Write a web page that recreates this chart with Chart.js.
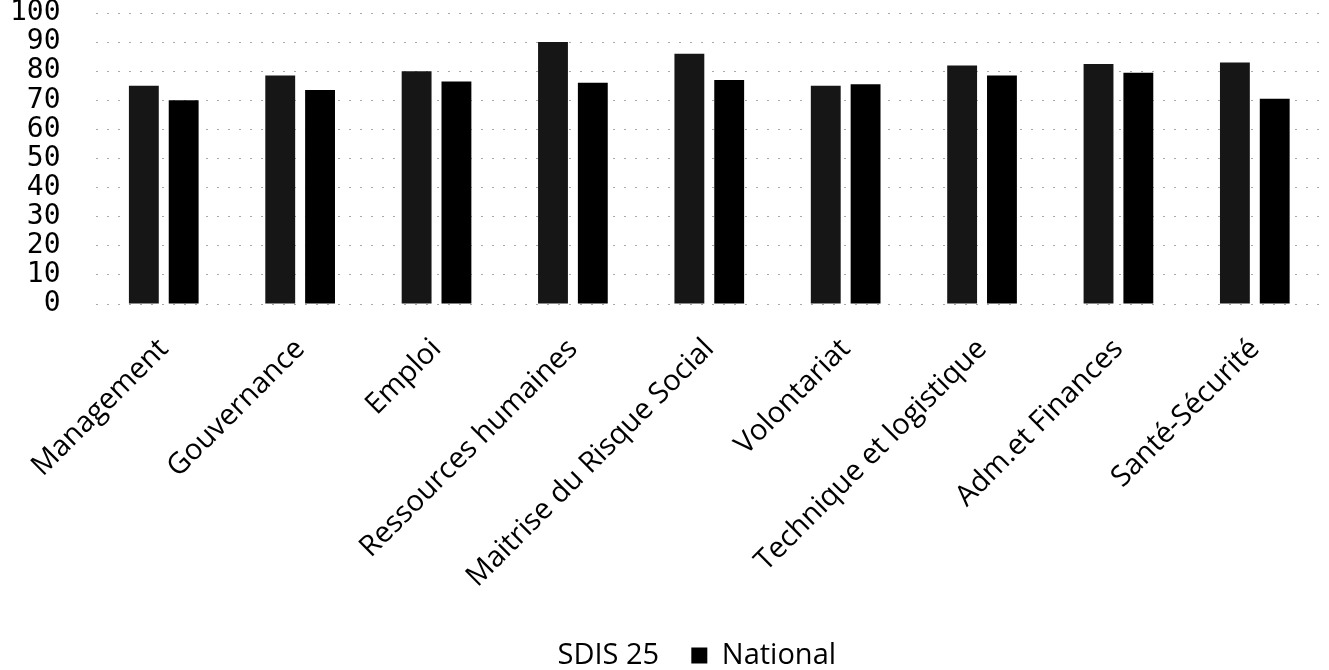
<!DOCTYPE html>
<html>
<head>
<meta charset="utf-8">
<script src="https://cdn.jsdelivr.net/npm/chart.js@4"></script>
<style>
    html, body { margin: 0; padding: 0; background: #fff; }
    #wrap { width: 1329px; height: 670px; }
</style>
</head>
<body>
<div id="wrap"><canvas id="domainesBarChart"></canvas></div>
<script>
const categories = ['Management', 'Gouvernance', 'Emploi', 'Ressources humaines', 'Maitrise du Risque Social',
    'Volontariat', 'Technique et logistique', 'Adm.et Finances', 'Santé-Sécurité'];
const sdisValues = [75, 78.5, 80, 90, 86, 75, 82, 82.5, 83];
const nationalValues = [70, 73.5, 76.5, 76, 77, 75.5, 78.5, 79.5, 70.5];
const yTicks = [0, 10, 20, 30, 40, 50, 60, 70, 80, 90, 100];

function createDomainesBarChart() {

    const data = {
        labels: categories,
        datasets: [{
            label: 'SDIS 25',
            data: sdisValues,
            backgroundColor: 'rgb(22,22,22)',
            categoryPercentage: 0.584,
            barPercentage: 0.75
            },
            {
            label: 'National',
            data: nationalValues,
            backgroundColor: 'rgb(0,0,0)',
            categoryPercentage: 0.584,
            barPercentage: 0.75
            }
        ]
    };

    const config = {
        type: 'bar',
        data: data,
        options: {
            responsive: true,
            maintainAspectRatio: false,
            animation: false,
            layout: {
                padding: { left: 10, top: 1, right: 6, bottom: -10 }
            },
            plugins: {
                tooltip: { enabled: false },
                legend: {
                    position: 'bottom',
                    labels: {
                        color: '#000',
                        font: { family: 'Open Sans', size: 29 },
                        boxWidth: 16,
                        boxHeight: 16,
                        padding: 2,
                        generateLabels: chart => {
                            const items = Chart.defaults.plugins.legend.labels.generateLabels(chart);
                            // the SDIS 25 swatch is not visible in the scan
                            items[0].fillStyle = 'rgba(0,0,0,0)';
                            items[0].strokeStyle = 'rgba(0,0,0,0)';
                            items[0].text = '    ' + items[0].text + '    ';
                            return items;
                        }
                    }
                }
            },
            scales: {
                x: {
                    grid: { display: false },
                    border: { display: false },
                    afterFit: axis => {
                        axis.paddingLeft = 0;
                        axis.paddingRight = 0;
                        axis.height = 335;
                    },
                    ticks: {
                        color: '#000',
                        font: { family: 'Open Sans', size: 29 },
                        minRotation: 45,
                        maxRotation: 45,
                        autoSkip: false,
                        padding: 20
                    }
                },
                y: {
                    min: 0,
                    max: 100,
                    afterBuildTicks: axis => {
                        axis.ticks = yTicks.map(v => ({ value: v }));
                    },
                    afterFit: axis => {
                        axis.width -= 35;   // padding is counted twice in the width
                        axis.paddingTop = 13;
                        axis.paddingBottom = 0;
                    },
                    grid: {
                        color: '#a8a8a8',
                        lineWidth: 1,
                        drawTicks: false
                    },
                    border: { display: false, dash: [2, 9] },
                    ticks: {
                        color: '#000',
                        font: { family: 'DejaVu Sans Mono', size: 28, lineHeight: 1 },
                        autoSkip: false,
                        padding: 35
                    }
                }
            }
        }
    };

    new Chart(
        document.getElementById('domainesBarChart'),
        config
    );
}

createDomainesBarChart();
</script>
</body>
</html>
